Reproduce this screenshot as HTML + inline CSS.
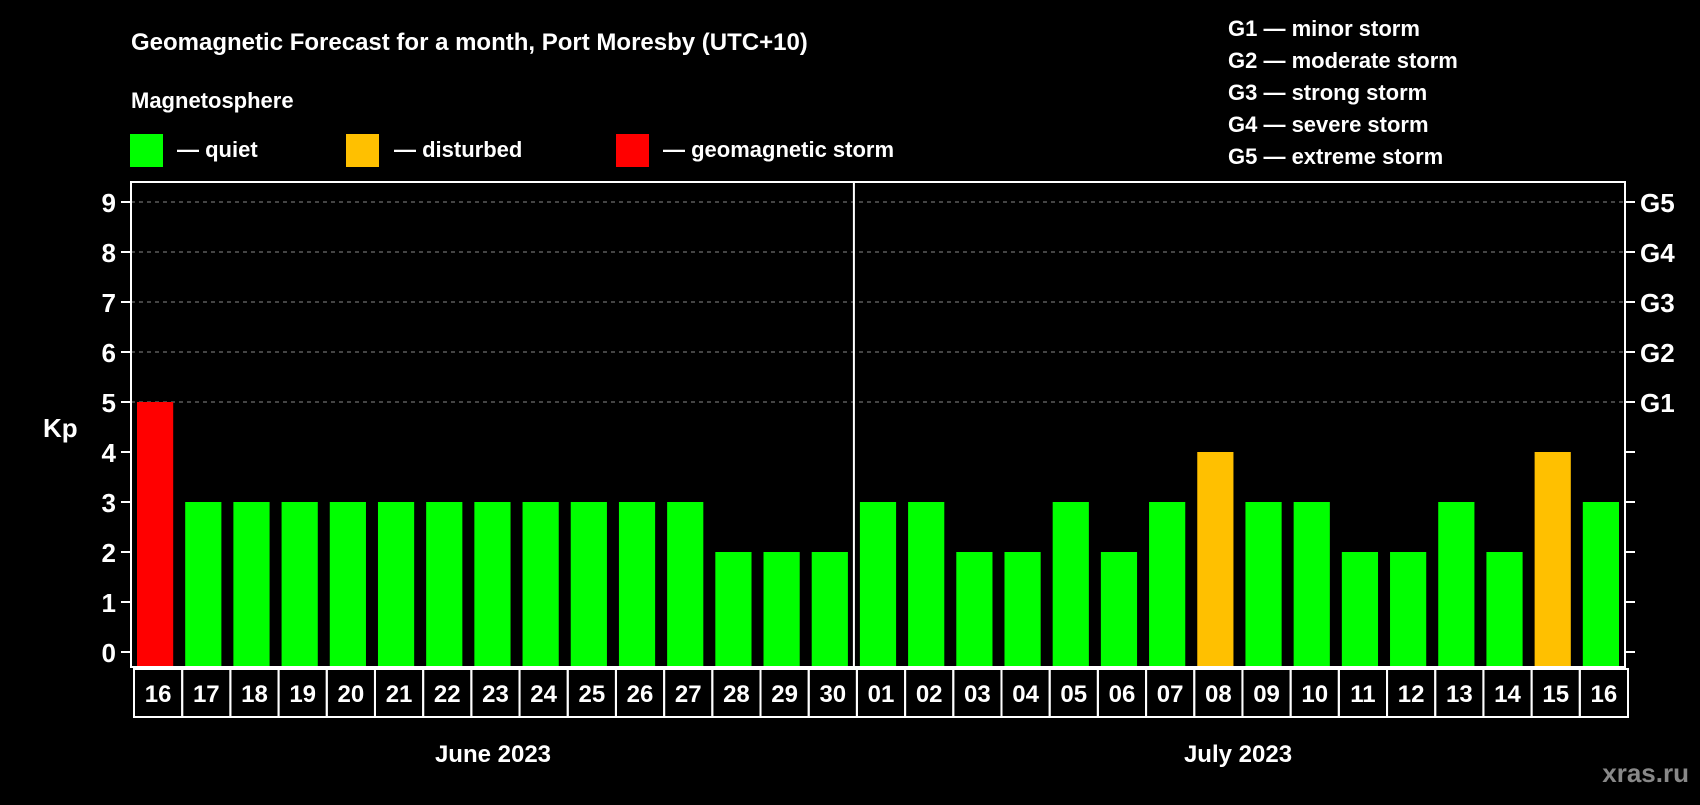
<!DOCTYPE html>
<html><head><meta charset="utf-8"><style>
body{margin:0;background:#000;width:1700px;height:800px;overflow:hidden}
svg text{font-family:"Liberation Sans",sans-serif;font-weight:bold;fill:#fff}
</style></head><body>
<svg id="c" width="1700" height="800">
<text x="131" y="50" font-size="24">Geomagnetic Forecast for a month, Port Moresby (UTC+10)</text>
<text x="131" y="108" font-size="22">Magnetosphere</text>
<rect x="130" y="134" width="33" height="33" fill="#00ff00"/>
<text x="177" y="157" font-size="22">— quiet</text>
<rect x="346" y="134" width="33" height="33" fill="#ffc000"/>
<text x="394" y="157" font-size="22">— disturbed</text>
<rect x="616" y="134" width="33" height="33" fill="#ff0000"/>
<text x="663" y="157" font-size="22">— geomagnetic storm</text>
<g font-size="22">
<text x="1228" y="36">G1 — minor storm</text>
<text x="1228" y="68">G2 — moderate storm</text>
<text x="1228" y="100">G3 — strong storm</text>
<text x="1228" y="132">G4 — severe storm</text>
<text x="1228" y="164">G5 — extreme storm</text>
</g>
<text x="43" y="437" font-size="26">Kp</text>
<text x="493" y="762" font-size="24" text-anchor="middle">June 2023</text>
<text x="1238" y="762" font-size="24" text-anchor="middle">July 2023</text>
<text x="1689" y="782" font-size="26" text-anchor="end" style="fill:#888">xras.ru</text>
<g id="plot"></g>
</svg>
<script>
const days=["16","17","18","19","20","21","22","23","24","25","26","27","28","29","30","01","02","03","04","05","06","07","08","09","10","11","12","13","14","15","16"];
const kp=[5,3,3,3,3,3,3,3,3,3,3,3,2,2,2,3,3,2,2,3,2,3,4,3,3,2,2,3,2,4,3];
const yTicks=[0,1,2,3,4,5,6,7,8,9];
const gLabels=["","","","","","G1","G2","G3","G4","G5"];
const L=131,R=1625,T=182,B=667;
const slot=(R-L)/days.length;
const y=v=>652-v*50;
const x=i=>L+i*slot;
const NS="http://www.w3.org/2000/svg";
const g=document.getElementById('plot');
function mk(t,a){const e=document.createElementNS(NS,t);for(const k in a)e.setAttribute(k,a[k]);g.appendChild(e);return e;}
yTicks.forEach(v=>{
 if(v>=5){const l=mk('line',{x1:L,x2:R,y1:y(v),y2:y(v),stroke:'#888','stroke-dasharray':'4,4'});
 
 }
 const t1=mk('line',{x1:L-10,x2:L,y1:y(v),y2:y(v),stroke:'#fff','stroke-width':2});
 
 
 const t2=mk('line',{x1:R,x2:R+10,y1:y(v),y2:y(v),stroke:'#fff','stroke-width':2});
 
 
 const tl=mk('text',{x:116,y:y(v)+10,'font-size':26,'text-anchor':'end'});tl.textContent=v;
 
 
 if(gLabels[v]){const gl=mk('text',{x:1640,y:y(v)+10,'font-size':26});gl.textContent=gLabels[v];
 
 }
});
kp.forEach((v,i)=>{
 const c=v>=5?'#ff0000':v>=4?'#ffc000':'#00ff00';
 const r=mk('rect',{x:x(i)+6,y:y(v),width:slot-12,height:y(0)-y(v)+15,fill:c});
 
 
 const b=mk('rect',{x:x(i)+3,y:669,width:slot,height:48,fill:'none',stroke:'#fff','stroke-width':2});
 
 
 const t=mk('text',{x:x(i)+3+slot/2,y:702,'font-size':24,'text-anchor':'middle'});t.textContent=days[i];
 
 
});
const fr=mk('rect',{x:L,y:T,width:R-L,height:B-T,fill:'none',stroke:'#fff','stroke-width':2});


const dv=mk('line',{x1:x(15),x2:x(15),y1:T,y2:B,stroke:'#fff','stroke-width':2});


</script>
</body></html>
